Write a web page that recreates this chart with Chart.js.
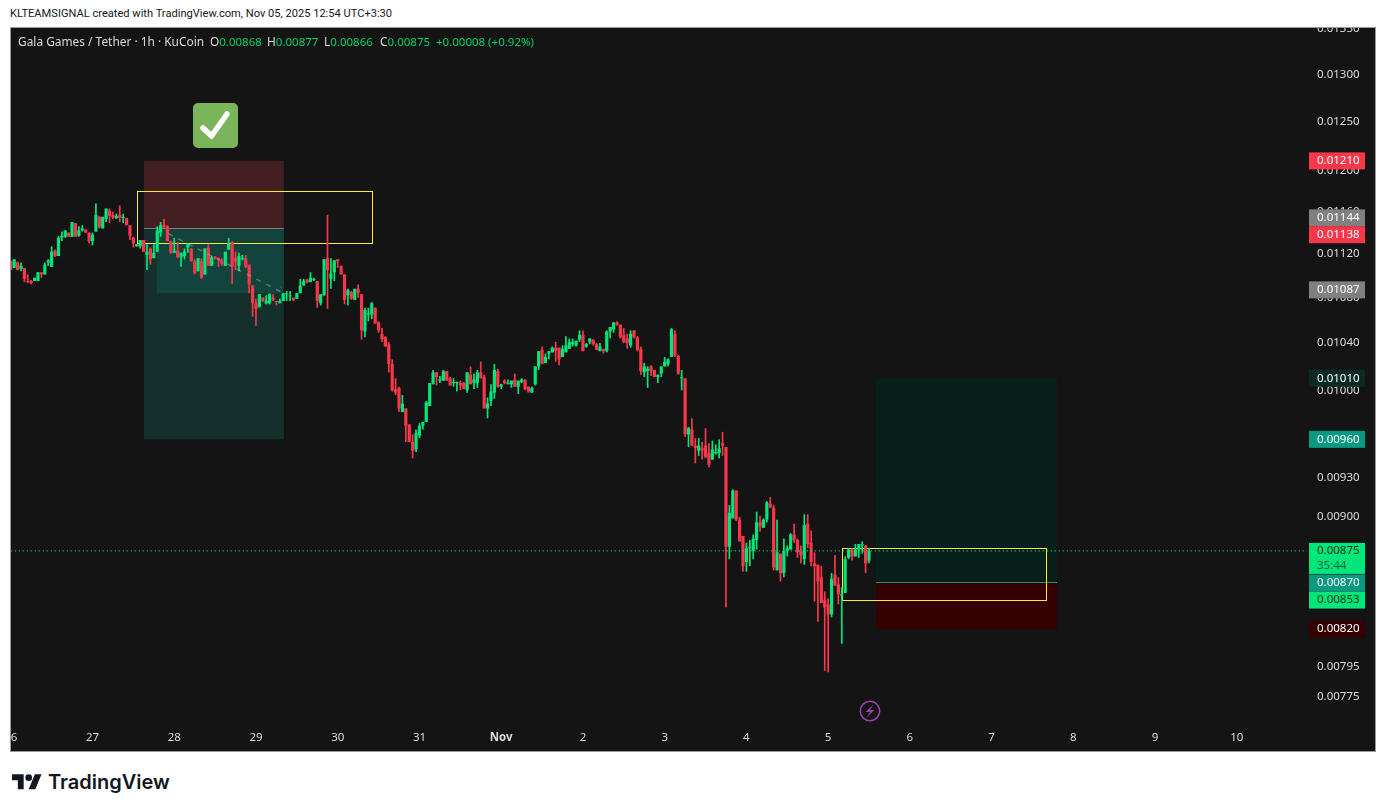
<!DOCTYPE html>
<html>
<head>
<meta charset="utf-8">
<title>Gala Games / Tether</title>
<script src="https://cdn.jsdelivr.net/npm/chart.js@4"></script>
<style>
html, body { margin: 0; padding: 0; background: #fff; }
body { width: 1386px; height: 812px; position: relative; overflow: hidden; font-family: "Noto Sans", sans-serif; }
#credit { position: absolute; left: 10px; top: 6px; font-family: Roboto, sans-serif; font-size: 11.1px; line-height: 16px; color: #131722; white-space: nowrap; }
#pane { position: absolute; left: 10px; top: 27px; width: 1364px; height: 723px; border: 1px solid #9a9a9a; background: #141414; }
#pane canvas { display: block; }
#legend span { position: absolute; top: 33px; font-size: 11.9px; line-height: 16px; white-space: nowrap; color: #dcdcdc; }
#legend b { font-weight: normal; font-size: 11.5px; color: #00d26a; }
#check, #bolt, #logo { position: absolute; }
#brand { position: absolute; left: 48px; top: 767px; font-family: Inter, sans-serif; font-weight: 600; font-size: 20px; line-height: 30px; color: #131722; }
</style>
</head>
<body>
<div id="credit">KLTEAMSIGNAL created with TradingView.com, Nov 05, 2025 12:54 UTC+3:30</div>
<div id="pane"><canvas id="chart" width="1364" height="723"></canvas></div>
<div id="legend">
  <span style="left:18px">Gala Games / Tether · 1h · KuCoin</span>
  <span style="left:210px">O<b>0.00868</b></span>
  <span style="left:267px">H<b>0.00877</b></span>
  <span style="left:324px">L<b>0.00866</b></span>
  <span style="left:380px">C<b>0.00875</b></span>
  <span style="left:436px"><b>+0.00008 (+0.92%)</b></span>
</div>
<svg id="check" style="left:193px;top:103px" width="45" height="45" viewBox="0 0 45 45">
  <rect width="45" height="45" rx="5" fill="#7ab55c"/>
  <path d="M10 25 L18.5 33 L34 11" fill="none" stroke="#fff" stroke-width="5.5" stroke-linecap="round" stroke-linejoin="round"/>
</svg>
<svg id="bolt" style="left:859px;top:700px" width="22" height="22" viewBox="0 0 22 22">
  <circle cx="11" cy="11" r="9.7" fill="none" stroke="#9c3fb0" stroke-width="1.6"/>
  <path d="M14.5 4.5 L6.5 12 H11 L7.5 17.5 L15.5 10 H11 Z" fill="#9c3fb0"/>
</svg>
<svg id="logo" style="left:12px;top:771px" width="30" height="23.3" viewBox="0 0 36 28">
  <path d="M14 22H7V11H0V4h14v18zM28 22h-8l7.5-18h8L28 22z" fill="#131722"/>
  <circle cx="20" cy="8" r="4" fill="#131722"/>
</svg>
<div id="brand">TradingView</div>

<script>
// hourly candles in ticks of 0.00001, first one is Oct 26 00:00, hour 0 is Oct 27 00:00
const PRICE_TICK = 0.00001;
const firstHour = -24;

const opens = [
  1113,1107,1112,1106,1107,1095,1095,1095,1095,1103,
  1101,1112,1108,1123,1118,1135,1136,1140,1136,1149,
  1137,1142,1143,1140,1132,1141,1155,1144,1153,1161,
  1157,1154,1157,1154,1154,1147,1135,1127,1127,1133,
  1119,1125,1116,1122,1140,1147,1146,1132,1121,1123,
  1117,1118,1126,1125,1113,1104,1113,1101,1126,1109,
  1117,1116,1113,1109,1124,1131,1116,1109,1115,1116,
  1110,1091,1075,1072,1080,1075,1075,1080,1077,1075,
  1077,1083,1081,1080,1079,1084,1091,1096,1094,1096,
  1095,1075,1082,1116,1097,1103,1115,1109,1101,1082,
  1085,1078,1088,1083,1050,1065,1065,1071,1058,1048,
  1045,1039,1022,1001,1002,982,985,972,958,952,
  963,971,974,987,1005,1015,1008,1008,1016,1010,
  1006,1006,1006,1006,1000,1013,1006,1006,1015,1011,
  985,991,998,1016,1003,1008,1005,1005,1009,1003,
  1007,1009,1003,998,1005,1020,1034,1023,1031,1032,
  1036,1036,1028,1032,1035,1039,1038,1043,1047,1037,
  1041,1043,1039,1033,1035,1033,1050,1052,1058,1056,
  1047,1044,1038,1051,1045,1035,1015,1016,1020,1017,
  1011,1014,1020,1022,1028,1048,1029,1010,1010,964,
  968,955,951,953,955,949,944,949,949,957,
  954,878,899,920,898,886,867,877,875,883,
  896,892,898,910,907,861,873,859,875,876,
  887,883,875,869,895,881,866,865,856,840,
  837,830,858,851,843,845,870,876,871,876,
  879,879,868
];
const highs = [
  1114,1115,1113,1112,1107,1101,1096,1098,1103,1103,
  1112,1115,1127,1124,1137,1141,1142,1140,1150,1149,
  1146,1147,1143,1140,1140,1168,1156,1155,1163,1163,
  1160,1158,1166,1158,1154,1147,1136,1129,1133,1133,
  1129,1126,1129,1146,1150,1153,1147,1132,1135,1131,
  1121,1125,1130,1125,1115,1116,1116,1125,1129,1118,
  1118,1117,1116,1122,1135,1132,1122,1121,1119,1119,
  1110,1091,1079,1083,1080,1082,1084,1083,1077,1079,
  1084,1086,1086,1080,1084,1097,1097,1097,1103,1098,
  1095,1083,1115,1157,1116,1114,1115,1109,1101,1088,
  1086,1088,1092,1083,1071,1071,1076,1071,1059,1053,
  1046,1041,1026,1010,1003,996,985,972,964,968,
  973,974,991,1006,1017,1015,1012,1017,1016,1011,
  1010,1007,1008,1007,1015,1020,1014,1017,1024,1013,
  994,1005,1022,1018,1005,1009,1009,1008,1014,1008,
  1010,1009,1003,1003,1020,1033,1037,1031,1033,1037,
  1041,1036,1038,1046,1044,1044,1042,1051,1051,1040,
  1044,1043,1040,1040,1035,1051,1054,1058,1059,1056,
  1053,1048,1051,1051,1046,1037,1023,1020,1021,1017,
  1013,1020,1028,1027,1053,1051,1030,1017,1010,970,
  977,961,961,958,969,957,959,956,960,966,
  954,909,921,920,900,886,881,883,887,904,
  901,899,912,915,909,898,873,884,879,888,
  895,884,879,902,902,890,874,865,864,846,
  841,859,872,856,849,871,877,877,880,880,
  882,879,877
];
const lows = [
  1105,1107,1105,1104,1094,1093,1092,1095,1095,1098,
  1101,1109,1108,1117,1118,1132,1135,1136,1136,1136,
  1136,1141,1140,1130,1128,1141,1144,1144,1150,1149,
  1153,1153,1150,1149,1147,1133,1126,1127,1125,1122,
  1105,1110,1116,1122,1136,1144,1132,1120,1121,1116,
  1108,1115,1121,1113,1101,1104,1097,1101,1109,1109,
  1115,1108,1109,1109,1124,1092,1105,1104,1114,1107,
  1084,1063,1055,1071,1076,1074,1074,1077,1073,1075,
  1077,1077,1077,1077,1079,1084,1091,1093,1094,1095,
  1071,1073,1082,1070,1088,1095,1107,1101,1074,1073,
  1078,1078,1080,1043,1045,1059,1061,1057,1049,1041,
  1037,1015,999,996,982,982,958,958,945,950,
  961,968,974,987,1005,1004,1006,1008,1008,1004,
  1003,999,1000,1001,998,1005,1001,1002,1010,985,
  977,987,993,1002,1001,1005,1005,1002,1003,997,
  1006,1000,998,998,1004,1017,1022,1023,1026,1032,
  1024,1021,1028,1032,1035,1037,1037,1041,1033,1036,
  1039,1038,1034,1033,1031,1032,1044,1049,1055,1044,
  1040,1035,1036,1044,1033,1013,1011,1002,1012,1011,
  1006,1011,1020,1020,1028,1028,1013,1000,962,954,
  955,941,947,944,945,938,944,948,945,947,
  835,869,899,897,882,860,860,864,869,876,
  889,892,896,907,861,861,853,856,871,876,
  881,870,866,865,877,864,839,825,838,792,
  791,828,850,837,810,845,869,868,871,870,
  873,859,866
];
const closes = [
  1105,1115,1105,1109,1097,1094,1093,1098,1103,1101,
  1110,1114,1122,1118,1135,1137,1142,1136,1150,1136,
  1142,1144,1140,1132,1138,1157,1145,1155,1163,1156,
  1154,1156,1154,1155,1147,1137,1130,1129,1133,1122,
  1122,1115,1121,1142,1147,1145,1132,1121,1123,1117,
  1121,1122,1129,1113,1102,1116,1098,1125,1109,1117,
  1115,1114,1111,1122,1130,1108,1113,1118,1116,1108,
  1092,1075,1070,1083,1077,1077,1083,1078,1076,1077,
  1084,1084,1082,1078,1084,1091,1095,1094,1098,1097,
  1077,1083,1115,1105,1102,1114,1113,1101,1078,1087,
  1079,1088,1084,1051,1069,1066,1075,1057,1051,1043,
  1037,1022,1000,998,985,989,971,958,951,965,
  971,974,990,1006,1015,1011,1009,1016,1008,1004,
  1007,1007,1004,1001,1015,1005,1009,1015,1010,985,
  989,999,1017,1003,1005,1006,1006,1008,1003,1008,
  1009,1001,999,1002,1020,1033,1022,1028,1033,1036,
  1033,1026,1035,1038,1041,1041,1042,1047,1033,1039,
  1044,1039,1034,1037,1033,1050,1054,1058,1056,1045,
  1041,1040,1048,1045,1034,1016,1020,1018,1016,1011,
  1013,1020,1024,1026,1052,1029,1014,1011,964,969,
  955,953,955,951,946,940,952,950,953,955,
  878,903,920,898,882,864,877,878,884,896,
  893,898,911,907,863,874,859,875,877,887,
  883,874,872,894,880,867,864,853,838,835,
  830,855,850,844,844,869,876,871,876,880,
  880,866,875
];

const dayHours = [-24, 0, 24, 48, 72, 96, 120, 144, 168, 192, 216, 240, 264, 288, 312, 336];
const dayLabels = ["26", "27", "28", "29", "30", "31", "Nov", "2", "3", "4", "5", "6", "7", "8", "9", "10"];
const priceTicks = [1350, 1300, 1250, 1200, 1160, 1120, 1080, 1040, 1000, 930, 900, 795, 775];

const lastPrice = 875;

// long/short position drawings: stop zone, target zone, reached part
const boxFrom = [15.1, 15.1, 18.9, 230, 230];
const boxTo = [56.2, 56.2, 56.2, 283.2, 283.2];
const boxHigh = [1210, 1144, 1144, 1010, 853];
const boxLow = [1144, 960, 1084, 853, 820];

// entry lines of both positions
const entryFrom = [15.1, 230];
const entryTo = [56.2, 283.2];
const entryPrice = [1144, 853];

// yellow rectangles
const frameFrom = [13.07, 220.2];
const frameTo = [82.1, 280.1];
const frameHigh = [1180, 877];
const frameLow = [1130, 840];

// dashed path inside the first position
const pathHours = [22.3, 55.5, 55.3];
const pathPrices = [1139, 1085, 1090];

// tags on the price axis; tagLevels is where the tag sits after the overlaps are pushed apart
const tagTexts = ["0.01210", "0.01144", "0.01138", "0.01087", "0.01010", "0.00960", "0.00870", "0.00853", "0.00820"];
const tagLevels = [1210, 1154, 1138, 1087, 1010, 960, 852, 840, 820];
const tagColors = ["#f9364a", "#808080", "#f9364a", "#808080", "#0a2a22", "#089981", "#089981", "#00e67a", "#360000"];
const tagInks = ["#fff", "#fff", "#fff", "#fff", "#fff", "#fff", "#fff", "#0b2b1b", "#fff"];
const countdownText = "35:44";
const lastPriceText = "0.00875";

const UP = "#00e67a";
const DOWN = "#f9364a";
const FONT = '"Noto Sans", sans-serif';

const price = (v) => v * PRICE_TICK;
const hours = opens.map((v, i) => firstHour + i);
const candleColors = opens.map((v, i) => (closes[i] >= v ? UP : DOWN));

// keep hairlines on one row of pixels
const snap = (v) => Math.round(v) + 0.5;

const drawingsPlugin = {
    id: "drawings",
    beforeDatasetsDraw(chart) {
        const { ctx, chartArea, scales: { x, y } } = chart;
        const colors = ["#431f22", "#14302c", "#12443c", "#08201b", "#360000"];

        ctx.save();
        ctx.beginPath();
        ctx.rect(chartArea.left, chartArea.top, chartArea.width, chartArea.height);
        ctx.clip();

        boxFrom.forEach((v, i) => {
            const left = x.getPixelForValue(v);
            const top = y.getPixelForValue(price(boxHigh[i]));
            ctx.fillStyle = colors[i];
            ctx.fillRect(left, top, x.getPixelForValue(boxTo[i]) - left, y.getPixelForValue(price(boxLow[i])) - top);
        });

        ctx.lineWidth = 1;
        entryFrom.forEach((v, i) => {
            const py = snap(y.getPixelForValue(price(entryPrice[i])));
            ctx.strokeStyle = i === 0 ? "#7d7d7d" : "#16a085";
            ctx.beginPath();
            ctx.moveTo(x.getPixelForValue(v), py);
            ctx.lineTo(x.getPixelForValue(entryTo[i]), py);
            ctx.stroke();
        });

        ctx.strokeStyle = "#ffeb3b";
        frameFrom.forEach((v, i) => {
            const left = snap(x.getPixelForValue(v));
            const top = snap(y.getPixelForValue(price(frameHigh[i])));
            const right = snap(x.getPixelForValue(frameTo[i]));
            const bottom = snap(y.getPixelForValue(price(frameLow[i])));
            ctx.strokeRect(left, top, right - left, bottom - top);
        });

        ctx.restore();
    },
    afterDraw(chart) {
        const { ctx, chartArea, scales: { y } } = chart;
        const tagLeft = chartArea.right + 2;
        const textLeft = chartArea.right + 10;

        ctx.save();
        ctx.font = "11.5px " + FONT;
        ctx.textBaseline = "middle";
        ctx.textAlign = "left";

        tagTexts.forEach((text, i) => {
            const py = y.getPixelForValue(price(tagLevels[i]));
            ctx.fillStyle = tagColors[i];
            ctx.fillRect(tagLeft, py - 8.5, 56, 17);
            ctx.fillStyle = tagInks[i];
            ctx.fillText(text, textLeft, py);
        });

        // last price tag carries the bar countdown under the price
        const py = y.getPixelForValue(price(lastPrice));
        ctx.fillStyle = UP;
        ctx.fillRect(tagLeft, py - 8, 56, 31);
        ctx.fillStyle = "#0b2b1b";
        ctx.fillText(lastPriceText, textLeft, py);
        ctx.fillStyle = "#16603a";
        ctx.fillText(countdownText, textLeft, py + 15);

        ctx.restore();
    }
};

new Chart(document.getElementById("chart"), {
    type: "bar",
    data: {
        datasets: [
            {
                type: "line",
                data: [{ x: -24, y: price(lastPrice) }, { x: 357, y: price(lastPrice) }],
                borderColor: UP,
                borderWidth: 1.2,
                borderDash: [1, 3],
                pointRadius: 0,
                order: 1
            },
            {
                type: "line",
                data: pathHours.map((v, i) => ({ x: v, y: price(pathPrices[i]) })),
                borderColor: "rgba(170, 170, 170, 0.5)",
                borderWidth: 1.5,
                borderDash: [5, 6],
                pointRadius: 0,
                order: 1
            },
            {
                data: hours.map((v, i) => ({ x: v, y: [price(opens[i]), price(closes[i])] })),
                backgroundColor: candleColors,
                barThickness: 3.2,
                grouped: false,
                inflateAmount: 0,
                order: 2
            },
            {
                data: hours.map((v, i) => ({ x: v, y: [price(lows[i]), price(highs[i])] })),
                backgroundColor: candleColors,
                barThickness: 1.7,
                grouped: false,
                inflateAmount: 0,
                order: 3
            }
        ]
    },
    options: {
        responsive: false,
        animation: false,
        events: [],
        layout: { padding: 0 },
        plugins: { legend: { display: false }, tooltip: { enabled: false }, title: { display: false } },
        scales: {
            x: {
                type: "linear",
                offset: false,
                min: -23.93,
                max: 356.6,
                grid: { display: false, drawTicks: false, offset: false },
                border: { display: false },
                afterBuildTicks: (scale) => { scale.ticks = dayHours.map((v) => ({ value: v })); },
                afterFit: (scale) => {
                    scale.height = 28;
                    scale.paddingLeft = 0;
                    scale.paddingRight = 0;
                },
                ticks: {
                    autoSkip: false,
                    maxRotation: 0,
                    padding: 8,
                    color: "#dcdcdc",
                    font: (c) => ({ family: FONT, size: 11.5, weight: c.tick && c.tick.value === 120 ? "bold" : "normal" }),
                    callback: (v) => dayLabels[dayHours.indexOf(v)]
                }
            },
            y: {
                type: "logarithmic",
                position: "right",
                min: 0.007584,
                max: 0.013513,
                grid: { display: false, drawTicks: false },
                border: { display: false },
                afterBuildTicks: (scale) => { scale.ticks = priceTicks.map((v) => ({ value: price(v) })); },
                afterFit: (scale) => {
                    scale.width = 68;
                    scale.paddingTop = 0;
                    scale.paddingBottom = 0;
                },
                ticks: {
                    padding: 10,
                    autoSkip: false,
                    color: "#dcdcdc",
                    font: { family: FONT, size: 11.5 },
                    callback: (v) => v.toFixed(5)
                }
            }
        }
    },
    plugins: [drawingsPlugin]
});
</script>
</body>
</html>
